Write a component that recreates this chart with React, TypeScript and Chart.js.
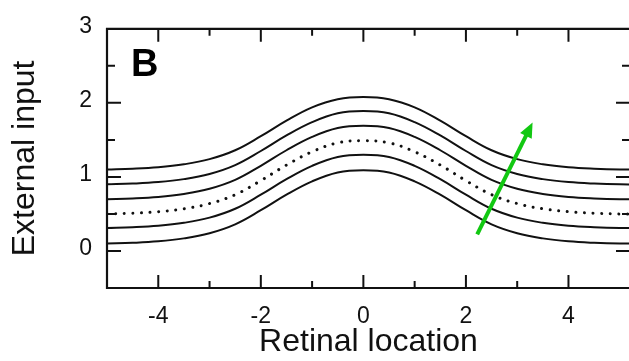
import React, { useEffect, useRef } from "react";
import { Chart, registerables } from "chart.js";

Chart.register(...registerables);

// ---- data ----
const xValues = [-5, -4.5, -4, -3.5, -3, -2.5, -2, -1.5, -1, -0.5, 0, 0.5, 1, 1.5, 2, 2.5, 3, 3.5, 4, 4.5, 5, 5.5];

const curve1 = [0.1, 0.11, 0.13, 0.17, 0.24, 0.36, 0.55, 0.76, 0.94, 1.06, 1.09, 1.06, 0.94, 0.76, 0.55, 0.36, 0.24, 0.17, 0.13, 0.11, 0.1, 0.1];
const curve2 = [0.31, 0.32, 0.34, 0.38, 0.45, 0.57, 0.76, 0.97, 1.15, 1.27, 1.3, 1.27, 1.15, 0.97, 0.76, 0.57, 0.45, 0.38, 0.34, 0.32, 0.31, 0.31];
const curve3Dotted = [0.5, 0.51, 0.53, 0.57, 0.64, 0.76, 0.95, 1.16, 1.34, 1.46, 1.49, 1.46, 1.34, 1.16, 0.95, 0.76, 0.64, 0.57, 0.53, 0.51, 0.5, 0.5];
const curve4 = [0.7, 0.71, 0.73, 0.77, 0.84, 0.96, 1.15, 1.36, 1.54, 1.66, 1.69, 1.66, 1.54, 1.36, 1.15, 0.96, 0.84, 0.77, 0.73, 0.71, 0.7, 0.7];
const curve5 = [0.9, 0.91, 0.93, 0.97, 1.04, 1.16, 1.35, 1.56, 1.74, 1.86, 1.89, 1.86, 1.74, 1.56, 1.35, 1.16, 1.04, 0.97, 0.93, 0.91, 0.9, 0.9];
const curve6 = [1.1, 1.11, 1.13, 1.17, 1.24, 1.36, 1.55, 1.76, 1.94, 2.05, 2.08, 2.05, 1.94, 1.76, 1.55, 1.36, 1.24, 1.17, 1.13, 1.11, 1.1, 1.1];

const xTickLabels = [-4, -2, 0, 2, 4];
const xMinorTicks = [-3, -1, 1, 3];
const yTickLabels = [0, 1, 2, 3];
const yMajorTicks = [0, 1, 2];
const yMinorTicks = [0.5, 1.5, 2.5];

const arrowStart = { x: 2.22, y: 0.225 };
const arrowEnd = { x: 3.3, y: 1.735 };

const panelLabel = "B";
const xTitle = "Retinal location";
const yTitle = "External input";

const FONT = "'Liberation Sans', Arial, Helvetica, sans-serif";
const INK = "#111";

const framePlugin = {
  id: "frameTicks",
  afterDraw(chart: any) {
    const { ctx, chartArea } = chart;
    const xs = chart.scales.x;
    const ys = chart.scales.y;
    const { left, right, top, bottom } = chartArea;
    ctx.save();
    ctx.strokeStyle = INK;
    ctx.lineWidth = 2.2;
    ctx.lineCap = "butt";
    ctx.beginPath();
    ctx.moveTo(right, top);
    ctx.lineTo(left, top);
    ctx.lineTo(left, bottom);
    ctx.lineTo(right, bottom);
    ctx.stroke();

    ctx.lineWidth = 2;
    const vTick = (v: number, len: number) => {
      const px = xs.getPixelForValue(v);
      ctx.beginPath();
      ctx.moveTo(px, bottom);
      ctx.lineTo(px, bottom - len);
      ctx.moveTo(px, top);
      ctx.lineTo(px, top + len);
      ctx.stroke();
    };
    xTickLabels.forEach((v) => vTick(v, 13));
    xMinorTicks.forEach((v) => vTick(v, 7));
    const hTick = (v: number, len: number) => {
      const py = ys.getPixelForValue(v);
      ctx.beginPath();
      ctx.moveTo(left, py);
      ctx.lineTo(left + len, py);
      ctx.moveTo(right, py);
      ctx.lineTo(right - len, py);
      ctx.stroke();
    };
    yMajorTicks.forEach((v) => hTick(v, 14));
    yMinorTicks.forEach((v) => hTick(v, 8));

    // panel letter
    ctx.fillStyle = "#000";
    ctx.font = `bold 38px ${FONT}`;
    ctx.textBaseline = "alphabetic";
    ctx.textAlign = "left";
    ctx.fillText(panelLabel, left + 24, top + 47);

    // green arrow
    const x0 = xs.getPixelForValue(arrowStart.x);
    const y0 = ys.getPixelForValue(arrowStart.y);
    const x1 = xs.getPixelForValue(arrowEnd.x);
    const y1 = ys.getPixelForValue(arrowEnd.y);
    const ang = Math.atan2(y1 - y0, x1 - x0);
    const headLen = 15;
    const headHalf = 6.5;
    const bx = x1 - headLen * Math.cos(ang);
    const by = y1 - headLen * Math.sin(ang);
    ctx.strokeStyle = "#12c812";
    ctx.fillStyle = "#12c812";
    ctx.lineWidth = 4;
    ctx.beginPath();
    ctx.moveTo(x0, y0);
    ctx.lineTo(bx + 2 * Math.cos(ang), by + 2 * Math.sin(ang));
    ctx.stroke();
    ctx.beginPath();
    ctx.moveTo(x1, y1);
    ctx.lineTo(bx + headHalf * Math.sin(ang), by - headHalf * Math.cos(ang));
    ctx.lineTo(bx - headHalf * Math.sin(ang), by + headHalf * Math.cos(ang));
    ctx.closePath();
    ctx.fill();
    ctx.restore();
  },
};

export default function App() {
  const canvasRef = useRef<HTMLCanvasElement | null>(null);

  useEffect(() => {
    const canvas = canvasRef.current;
    if (!canvas) return;
    const toPoints = (arr: number[]) => xValues.map((x, i) => ({ x, y: arr[i] }));
    const solid = (arr: number[]) => ({
      data: toPoints(arr),
      borderColor: INK,
      borderWidth: 2,
      pointRadius: 0,
      fill: false,
      tension: 0.4,
    });
    const chart = new Chart(canvas, {
      type: "line",
      data: {
        datasets: [
          solid(curve1),
          solid(curve2),
          {
            data: toPoints(curve3Dotted),
            borderColor: INK,
            borderWidth: 3,
            borderDash: [0.01, 8.6],
            borderCapStyle: "round",
            pointRadius: 0,
            fill: false,
            tension: 0.4,
          },
          solid(curve4),
          solid(curve5),
          solid(curve6),
        ],
      },
      options: {
        animation: false,
        responsive: false,
        maintainAspectRatio: false,
        layout: { padding: { top: 23, right: 10, left: 0, bottom: 0 } },
        plugins: { legend: { display: false }, tooltip: { enabled: false } },
        scales: {
          x: {
            type: "linear",
            min: -5,
            max: 5.2,
            grid: { display: false, drawTicks: false, tickLength: 0 },
            border: { display: false },
            afterBuildTicks: (s: any) => {
              s.ticks = xTickLabels.map((v) => ({ value: v }));
            },
            afterFit: (s: any) => {
              s.height = 73;
            },
            ticks: {
              padding: 15,
              color: INK,
              font: { family: FONT, size: 23 },
              maxRotation: 0,
              callback: (v: any) => String(v),
            },
            title: {
              display: true,
              text: xTitle,
              color: INK,
              font: { family: FONT, size: 32 },
              padding: { top: 0, bottom: 0 },
            },
          },
          y: {
            type: "linear",
            min: -0.5,
            max: 3,
            grid: { display: false, drawTicks: false, tickLength: 0 },
            border: { display: false },
            afterBuildTicks: (s: any) => {
              s.ticks = yTickLabels.map((v) => ({ value: v }));
            },
            afterFit: (s: any) => {
              s.width = 107;
            },
            ticks: {
              padding: 15,
              labelOffset: -2,
              color: INK,
              font: { family: FONT, size: 23 },
              callback: (v: any) => String(v),
            },
            title: {
              display: true,
              text: yTitle,
              color: INK,
              font: { family: FONT, size: 32 },
              padding: { top: 6, bottom: 0 },
            },
          },
        },
      },
      plugins: [framePlugin],
    } as any);
    return () => chart.destroy();
  }, []);

  return (
    <div
      style={{
        position: "fixed",
        left: 0,
        top: 0,
        width: 629,
        height: 361,
        overflow: "hidden",
        background: "#fff",
      }}
    >
      <canvas ref={canvasRef} width={640} height={361} style={{ display: "block", width: 640, height: 361 }} />
    </div>
  );
}
